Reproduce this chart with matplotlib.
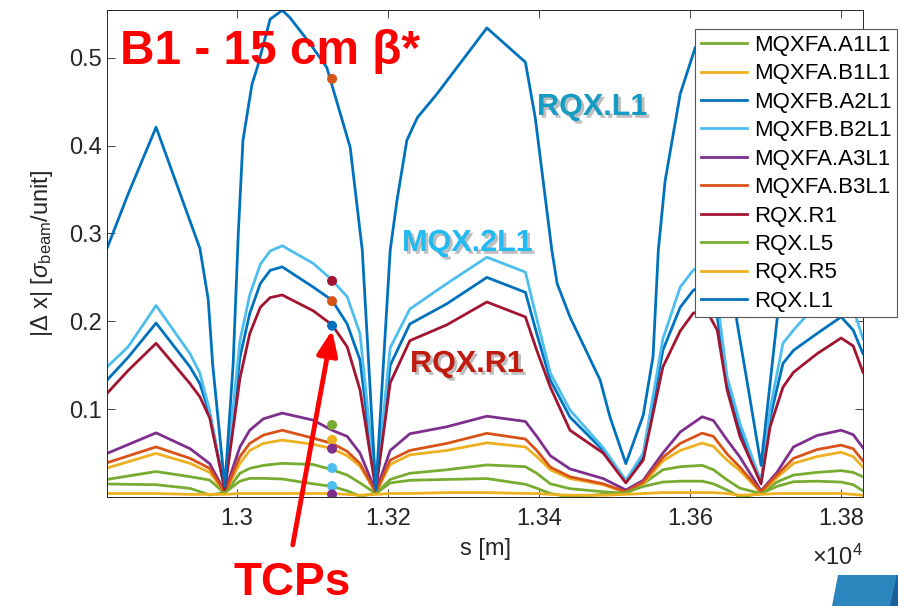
import matplotlib.pyplot as plt
import matplotlib.patheffects as pe
from matplotlib.patches import Polygon

plt.rcParams['font.family'] = 'Liberation Sans'
plt.rcParams['mathtext.fontset'] = 'custom'
plt.rcParams['mathtext.rm'] = 'Liberation Sans'
plt.rcParams['mathtext.it'] = 'Liberation Sans:italic'

# MATLAB default colours
c_blue = '#0072BD'
c_orange = '#D95319'
c_yellow = '#EDB120'
c_purple = '#7E2F8E'
c_green = '#77AC30'
c_lblue = '#4DBEEE'
c_red = '#A2142F'

# s grid for the three mid curves (m)
s_hi = [12828, 12856, 12893, 12938, 12951, 12964, 12984, 13004, 13017, 13031,
        13044, 13060, 13101, 13126, 13146, 13163, 13184, 13203, 13229, 13278,
        13331, 13382, 13397, 13415, 13441, 13485, 13515, 13538, 13564, 13587,
        13604, 13620, 13636, 13649, 13666, 13694, 13706, 13723, 13737, 13768,
        13800, 13816, 13829]
b2l1 = [.148, .171, .218, .163, .141, .098, .008, .178, .230, .265,
        .280, .286, .266, .247, .228, .186, .008, .170, .214, .243,
        .273, .256, .203, .141, .099, .056, .019, .050, .180, .239,
        .258, .268, .225, .137, .084, .017, .100, .175, .190, .220,
        .235, .215, .180]
a2l1 = [.133, .159, .198, .148, .129, .094, .008, .159, .209, .243,
        .258, .262, .239, .224, .197, .156, .008, .150, .197, .220,
        .250, .233, .186, .133, .091, .053, .018, .046, .167, .216,
        .235, .244, .205, .130, .076, .017, .090, .152, .167, .186,
        .205, .190, .163]
rqx_r1 = [.118, .144, .175, .129, .114, .090, .008, .135, .186, .216,
          .227, .230, .212, .196, .171, .122, .008, .130, .178, .196,
          .222, .205, .167, .125, .076, .050, .016, .042, .148, .189,
          .209, .215, .190, .122, .069, .015, .080, .125, .142, .163,
          .181, .172, .142]

# s grid for the low curves (m)
s_lo = [12828, 12893, 12938, 12964, 12984, 13004, 13017, 13035, 13060, 13101,
        13126, 13146, 13163, 13184, 13203, 13229, 13278, 13331, 13382, 13397,
        13415, 13441, 13485, 13515, 13538, 13564, 13587, 13616, 13631, 13649,
        13666, 13694, 13715, 13737, 13768, 13800, 13816, 13829]
a3l1 = [.0496, .073, .055, .038, .006, .057, .076, .089, .0955, .0875,
        .076, .069, .050, .006, .053, .072, .080, .092, .086, .069,
        .047, .032, .021, .008, .019, .050, .074, .0913, .087, .065,
        .0455, .007, .028, .057, .070, .076, .071, .056]
b3l1 = [.039, .057, .044, .0326, .005, .046, .061, .0705, .076, .067,
        .061, .052, .038, .005, .042, .053, .061, .0725, .066, .053,
        .034, .023, .015, .006, .017, .045, .061, .0727, .069, .049,
        .034, .006, .025, .044, .054, .059, .055, .041]
b1l1 = [.033, .0496, .0383, .028, .005, .0383, .053, .061, .0648, .060,
        .055, .047, .035, .005, .037, .048, .053, .0617, .057, .046,
        .031, .021, .014, .005, .015, .041, .053, .0614, .0576, .042,
        .030, .005, .022, .0383, .046, .051, .046, .034]
a1l1 = [.020, .029, .0231, .0193, .004, .027, .0326, .036, .0383, .037,
        .031, .025, .016, .004, .020, .027, .031, .0365, .0345, .027,
        .015, .0095, .006, .004, .015, .031, .0345, .036, .031, .0195,
        .010, .004, .017, .025, .028, .030, .028, .023]
rqx_l5 = [.0148, .014, .0098, .0023, .005, .018, .0212, .0212, .0205, .015,
          .012, .007, .001, .004, .016, .019, .020, .021, .0145, .010,
          .004, .000, .003, .005, .012, .017, .018, .018, .015, .008,
          .000, .004, .012, .0174, .018, .017, .014, .007]
rqx_r5 = [.004, .004, .003, .003, .003, .004, .004, .004, .004, .004,
          .004, .003, .002, .003, .004, .004, .005, .005, .004, .004,
          .003, .002, .002, .003, .004, .005, .005, .005, .005, .004,
          .002, .003, .004, .004, .004, .004, .003, .002]

# RQX.L1, the tallest curve
s_l1 = [12828, 12856, 12893, 12951, 12962, 12968, 12984, 12995, 13002, 13008,
        13020, 13027, 13044, 13060, 13070, 13097, 13119, 13150, 13166, 13184,
        13203, 13212, 13225, 13239, 13265, 13331, 13382, 13395, 13417, 13424,
        13441, 13481, 13494, 13515, 13538, 13551, 13558, 13567, 13587, 13607,
        13627, 13646, 13662, 13676, 13694, 13715, 13732, 13800, 13829]
rqx_l1 = [.283, .345, .421, .283, .225, .150, .012, .151, .303, .406,
          .470, .489, .544, .554, .546, .516, .489, .398, .281, .008,
          .281, .338, .406, .432, .459, .534, .495, .432, .281, .243,
          .205, .133, .091, .038, .093, .160, .281, .360, .459, .512,
          .515, .400, .200, .129, .036, .200, .330, .420, .350]

# TCP positions
tcp_s = 13126
tcp_y = [.476, .246, .223, .195, .082, .065, .055, .033, .0125, .003]
tcp_c = [c_orange, c_red, c_orange, c_blue, c_green, c_yellow, c_purple,
         c_lblue, c_lblue, c_purple]

W, H = 898, 606
fig = plt.figure(figsize=(W / 100, H / 100), dpi=100)
ax = fig.add_axes([107 / W, 1 - 497 / H, 756 / W, 487.5 / H])

lw = 2.0
ax.plot(s_lo, a1l1, color=c_green, lw=lw, label='MQXFA.A1L1')
ax.plot(s_lo, b1l1, color=c_yellow, lw=lw, label='MQXFA.B1L1')
ax.plot(s_hi, a2l1, color=c_blue, lw=lw, label='MQXFB.A2L1')
ax.plot(s_hi, b2l1, color=c_lblue, lw=lw, label='MQXFB.B2L1')
ax.plot(s_lo, a3l1, color=c_purple, lw=lw, label='MQXFA.A3L1')
ax.plot(s_lo, b3l1, color=c_orange, lw=lw, label='MQXFA.B3L1')
ax.plot(s_hi, rqx_r1, color=c_red, lw=lw, label='RQX.R1')
ax.plot(s_lo, rqx_l5, color=c_green, lw=lw, label='RQX.L5')
ax.plot(s_lo, rqx_r5, color=c_yellow, lw=lw, label='RQX.R5')
ax.plot(s_l1, rqx_l1, color=c_blue, lw=lw, label='RQX.L1')

ax.scatter([tcp_s] * len(tcp_y), tcp_y, c=tcp_c, s=52, linewidths=0, zorder=5)

ax.set_xlim(12828, 13829)
ax.set_ylim(0, 0.555)
ax.set_xticks([13000, 13200, 13400, 13600, 13800])
ax.set_xticklabels(['1.3', '1.32', '1.34', '1.36', '1.38'])
ax.set_yticks([0.1, 0.2, 0.3, 0.4, 0.5])
ax.set_yticklabels(['0.1', '0.2', '0.3', '0.4', '0.5'])
ax.tick_params(direction='in', length=5.5, width=0.6, top=True, right=True,
               labelsize=17, color='#262626', labelcolor='#262626')
ax.tick_params(axis='x', pad=8)
ax.tick_params(axis='y', pad=4)
for sp in ax.spines.values():
    sp.set_color('#262626')
    sp.set_linewidth(0.7)

ax.set_xlabel('s [m]', fontsize=17, color='#262626')
ax.xaxis.set_label_coords(0.5, -0.084)
ax.set_ylabel(r'$|\Delta$ x$|$ [$\sigma_{\rm beam}$/unit]', fontsize=17, color='#262626')
ax.yaxis.set_label_coords(-0.069, 0.5)

leg = ax.legend(loc='upper left', bbox_to_anchor=(695 / W, 1 - 29.3 / H),
                bbox_transform=fig.transFigure, fontsize=16, frameon=True,
                fancybox=False, framealpha=1, edgecolor='#555555',
                borderaxespad=0, borderpad=0.25, labelspacing=0.335,
                handlelength=2.1, handletextpad=0.3)
leg.get_frame().set_linewidth(0.8)

# annotations
fig.text(120 / W, 1 - 64 / H, 'B1 - 15 cm β*', color='red', fontsize=34.4,
         fontweight='bold', ha='left', va='baseline')
shadow = [pe.withSimplePatchShadow(offset=(2, -2), shadow_rgbFace='#444444', alpha=0.35)]
fig.text(537 / W, 1 - 115 / H, 'RQX.L1', color='#169BC3', fontsize=22,
         fontweight='bold', ha='left', va='baseline', path_effects=shadow)
fig.text(402 / W, 1 - 251 / H, 'MQX.2L1', color='#22BAF2', fontsize=22,
         fontweight='bold', ha='left', va='baseline', path_effects=shadow)
fig.text(410 / W, 1 - 372 / H, 'RQX.R1', color='#BF1B0F', fontsize=22,
         fontweight='bold', ha='left', va='baseline', path_effects=shadow)
fig.text(233 / W, 1 - 595 / H, 'TCPs', color='red', fontsize=33,
         fontweight='bold', ha='left', va='baseline')
ax.annotate('', xy=(tcp_s, 0.19), xytext=(13074, -0.0545),
            annotation_clip=False,
            arrowprops=dict(arrowstyle='-|>,head_length=0.6,head_width=0.25',
                            color='red', lw=3.5, mutation_scale=25,
                            shrinkA=0, shrinkB=0))

fig.text(863 / W, 1 - 565 / H, r'$\times$10$^4$', ha='right', va='baseline',
         fontsize=17, color='#262626')

# slide decoration in the corner
fig.patches.append(Polygon([[832 / W, 0], [838 / W, 31 / H], [1, 31 / H], [1, 0]],
                           closed=True, transform=fig.transFigure,
                           facecolor='#2a86bc', edgecolor='none'))
fig.patches.append(Polygon([[890 / W, 0], [897 / W, 31 / H], [1, 31 / H], [1, 0]],
                           closed=True, transform=fig.transFigure,
                           facecolor='#1b5f96', edgecolor='none'))

fig.savefig('out.png', dpi=100)
